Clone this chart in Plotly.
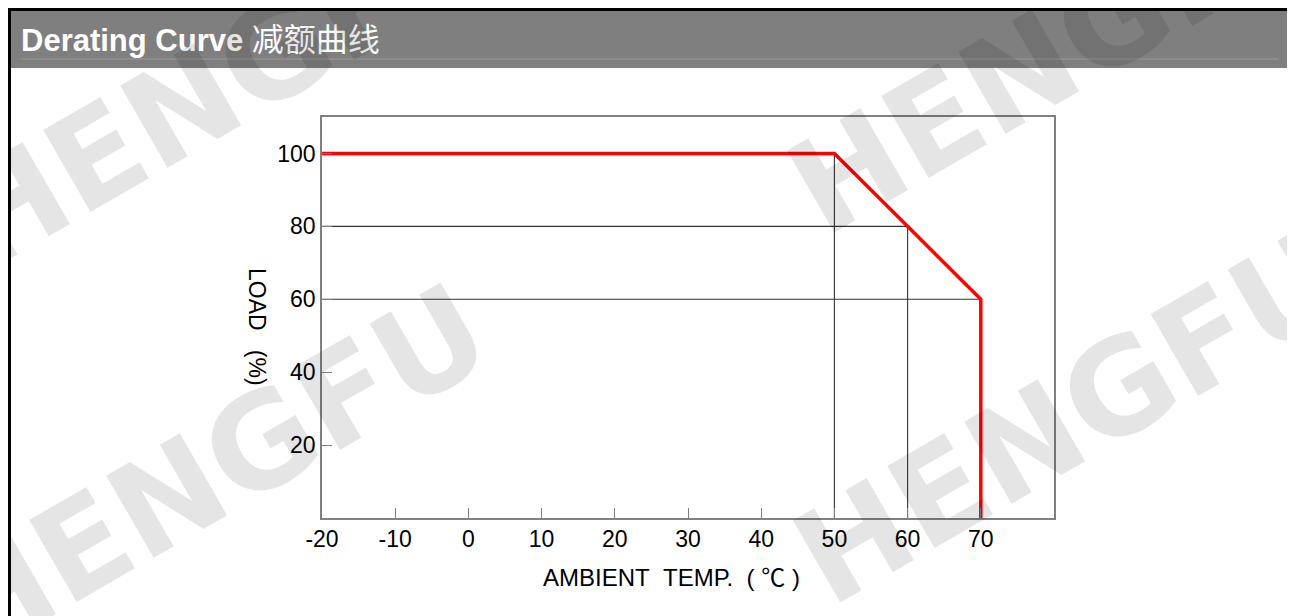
import plotly.graph_objects as go

# ---- data ----
temp = [-20, 50, 60, 70, 70]          # ambient temperature (°C)
load = [100, 100, 80, 60, 0]          # load (%)
x_ticks = [-20, -10, 0, 10, 20, 30, 40, 50, 60, 70]
x_tick_text = ["-20", "-10", "0", "10", "20", "30", "40", "50", "60", "70"]
y_ticks = [20, 40, 60, 80, 100]
x_range = [-20, 80]
y_range = [0, 110]
v_guide_temp = [50, 60]               # vertical guide lines at these temps
v_guide_load = [100, 80]              # ... up to these loads
h_guide_load = [80, 60]               # horizontal guide lines at these loads
h_guide_temp = [60, 70]               # ... up to these temps
title_en = "Derating Curve"
title_cn = "减额曲线"
x_title = "AMBIENT\u00a0\u00a0TEMP.\u00a0\u00a0(\u00a0℃\u00a0)"
y_title = "LOAD\u00a0\u00a0\u00a0(%)"
watermark = "HENGFU"

# ---- layout geometry (page pixels; the page body has an 8px margin) ----
OFF = 8
VW, VH = 1295, 616
W, H = VW - OFF, VH - OFF
PL, PR, PT, PB = 322, 1054, 117, 518      # plot area in page pixels
L, R, T, B = PL - OFF, VW - PR, PT - OFF, VH - PB
pw, ph = PR - PL, PB - PT


def px(x):
    return (x - PL) / pw


def py(y):
    return (PB - y) / ph


FONT = "Liberation Sans, Arial, sans-serif"

fig = go.Figure()

# guide lines
for t, l in zip(v_guide_temp, v_guide_load):
    fig.add_trace(go.Scatter(x=[t, t], y=[y_range[0], l], mode="lines",
                             line=dict(color="#333333", width=1.1),
                             hoverinfo="skip", showlegend=False))
for l, t in zip(h_guide_load, h_guide_temp):
    fig.add_trace(go.Scatter(x=[x_range[0], t], y=[l, l], mode="lines",
                             line=dict(color="#333333", width=1.1),
                             hoverinfo="skip", showlegend=False))

# derating curve
fig.add_trace(go.Scatter(x=temp, y=load, mode="lines",
                         line=dict(color="#ff0000", width=3.5),
                         showlegend=False))

shapes = [
    # header bar
    dict(type="rect", xref="paper", yref="paper", x0=px(10), x1=px(1289),
         y0=py(68), y1=py(10), fillcolor="#7f7f7f", line=dict(width=0),
         layer="below"),
    dict(type="line", xref="paper", yref="paper", x0=px(21), x1=px(1278),
         y0=py(59), y1=py(59), line=dict(color="#9a9a9a", width=1)),
    # outer border
    dict(type="rect", xref="paper", yref="paper", x0=px(9.5), x1=px(1290),
         y0=py(640), y1=py(9.5), line=dict(color="black", width=3),
         fillcolor="rgba(0,0,0,0)"),
]

annotations = [
    dict(text=f"<b>{title_en}</b> <span style='font-size:32px'>{title_cn}</span>",
         xref="paper", yref="paper",
         x=px(19), y=py(40), xanchor="left", yanchor="middle", showarrow=False,
         font=dict(family="Liberation Sans, Noto Sans CJK SC", size=31, color="white")),
    dict(text=x_title, xref="paper", yref="paper", x=px(671), y=py(577),
         xanchor="center", yanchor="middle", showarrow=False,
         font=dict(family=FONT + ", Noto Sans CJK SC", size=24, color="black")),
    dict(text=y_title, xref="paper", yref="paper", x=px(257), y=py(327),
         xanchor="center", yanchor="middle", showarrow=False, textangle=90,
         font=dict(family=FONT, size=23, color="black")),
]

# watermarks
for cx, cy in [(226, 82), (212, 472), (1064, 48), (1070, 418)]:
    annotations.append(dict(text=f"<b>{watermark}</b>", xref="paper", yref="paper",
                            x=px(cx), y=py(cy), xanchor="center", yanchor="middle",
                            showarrow=False, textangle=-30,
                            font=dict(family="DejaVu Sans, sans-serif", size=130,
                                      color="rgba(0,0,0,0.1)")))

axis_common = dict(showgrid=False, zeroline=False, showline=True, mirror=True,
                   linecolor="#808080", linewidth=1.5, ticks="inside", ticklen=10,
                   tickcolor="#808080", tickwidth=1.2,
                   tickfont=dict(family=FONT, size=23, color="black"))

fig.update_layout(
    width=W, height=H,
    margin=dict(l=L, r=R, t=T, b=B, pad=0),
    paper_bgcolor="white", plot_bgcolor="rgba(0,0,0,0)",
    xaxis=dict(range=x_range, tickvals=x_ticks, ticktext=x_tick_text, **axis_common),
    yaxis=dict(range=y_range, tickvals=y_ticks, **axis_common),
    shapes=shapes, annotations=annotations,
)

fig.write_html("out.html")
